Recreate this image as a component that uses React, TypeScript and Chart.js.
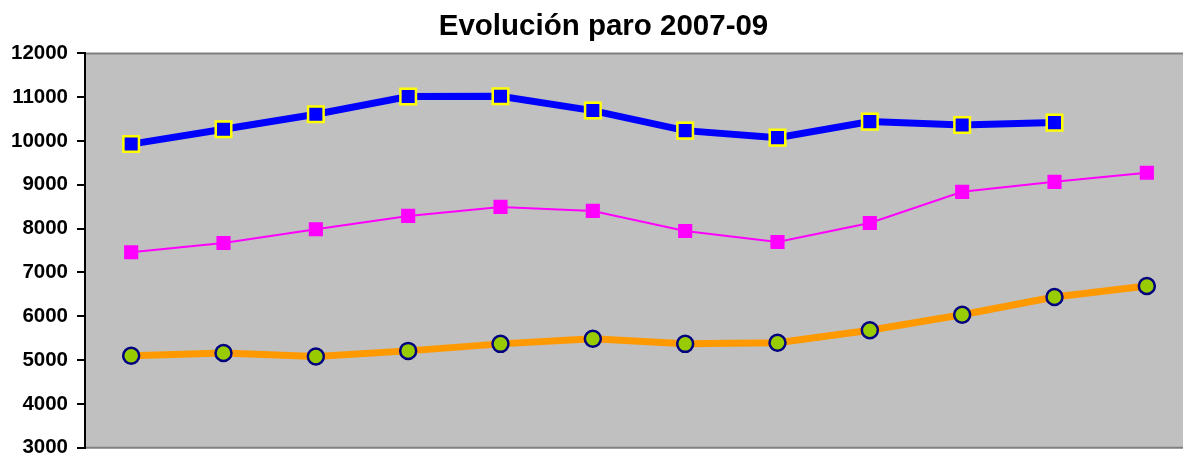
import React, { useEffect, useRef } from "react";
import { Chart, registerables } from "chart.js";

Chart.register(...registerables);

const categories = ["1", "2", "3", "4", "5", "6", "7", "8", "9", "10", "11", "12"];
const serieAzul = [9930, 10270, 10610, 11015, 11020, 10695, 10237, 10077, 10443, 10367, 10420, null];
const serieMagenta = [7460, 7672, 7985, 8290, 8496, 8405, 7947, 7695, 8130, 8840, 9069, 9275];
const serieNaranja = [5100, 5160, 5080, 5210, 5370, 5485, 5370, 5395, 5680, 6035, 6440, 6690];
const yTicks = [3000, 4000, 5000, 6000, 7000, 8000, 9000, 10000, 11000, 12000];
const titleText = "Evolución paro 2007-09";

const plotBg = {
  id: "plotBg",
  afterLayout(chart: any) {
    const t = chart.titleBlock;
    if (t) {
      t.left += 6;
      t.right += 6;
    }
  },
  beforeDraw(chart: any) {
    const { ctx, chartArea } = chart;
    if (!chartArea) return;
    ctx.save();
    ctx.fillStyle = "#C0C0C0";
    ctx.fillRect(chartArea.left, chartArea.top, chartArea.right - chartArea.left, chartArea.bottom - chartArea.top);
    ctx.strokeStyle = "#808080";
    ctx.lineWidth = 2;
    ctx.beginPath();
    ctx.moveTo(chartArea.left, chartArea.top);
    ctx.lineTo(chartArea.right, chartArea.top);
    ctx.moveTo(chartArea.left, chartArea.bottom);
    ctx.lineTo(chartArea.right, chartArea.bottom);
    ctx.stroke();
    ctx.restore();
  },
};

export default function App() {
  const ref = useRef<HTMLCanvasElement>(null);
  useEffect(() => {
    document.body.style.margin = "0";
    const chart = new Chart(ref.current as HTMLCanvasElement, {
      type: "line",
      data: {
        labels: categories,
        datasets: [
          {
            data: serieAzul,
            borderColor: "#0000FF",
            borderWidth: 7,
            pointStyle: "rect",
            pointRadius: 11,
            pointBackgroundColor: "#0000FF",
            pointBorderColor: "#FFFF00",
            pointBorderWidth: 2.5,
            tension: 0,
          },
          {
            data: serieMagenta,
            borderColor: "#FF00FF",
            borderWidth: 2,
            pointStyle: "rect",
            pointRadius: 10,
            pointBackgroundColor: "#FF00FF",
            pointBorderColor: "#FF00FF",
            pointBorderWidth: 0,
            tension: 0,
          },
          {
            data: serieNaranja,
            borderColor: "#FF9900",
            borderWidth: 7,
            pointStyle: "circle",
            pointRadius: 8,
            pointBackgroundColor: "#99CC00",
            pointBorderColor: "#000080",
            pointBorderWidth: 2.5,
            tension: 0,
          },
        ],
      },
      options: {
        animation: false,
        responsive: false,
        maintainAspectRatio: false,
        layout: { autoPadding: false, padding: { left: 2, right: 2, top: 0, bottom: 0 } },
        plugins: {
          legend: { display: false },
          tooltip: { enabled: false },
          title: {
            display: true,
            text: titleText,
            color: "#000",
            font: { family: "'Liberation Sans', Arial, sans-serif", size: 29.5, weight: "bold" },
            padding: { top: 9, bottom: 9 },
          },
        },
        scales: {
          x: {
            type: "category",
            offset: true,
            display: false,
          },
          y: {
            min: 3000,
            max: 12000,
            afterBuildTicks(axis: any) {
              axis.ticks = yTicks.map((v) => ({ value: v }));
            },
            grid: {
              drawOnChartArea: false,
              drawTicks: true,
              tickLength: 8,
              color: "#000",
              lineWidth: 2,
            },
            border: { display: true, color: "#000", width: 2 },
            ticks: {
              padding: 9,
              color: "#000",
              callback: (v: any) => String(v),
              font: { family: "'Liberation Sans', Arial, sans-serif", size: 20.5, weight: "bold" },
            },
          },
        },
      },
      plugins: [plotBg],
    });
    return () => chart.destroy();
  }, []);
  return (
    <div style={{ width: 1183, height: 456, overflow: "hidden", position: "relative", background: "#fff" }}>
      <div style={{ width: 1195, height: 469 }}>
        <canvas
          ref={ref}
          width={1195}
          height={469}
          style={{ display: "block", width: 1195, height: 469, maxWidth: "none" }}
        />
      </div>
    </div>
  );
}
